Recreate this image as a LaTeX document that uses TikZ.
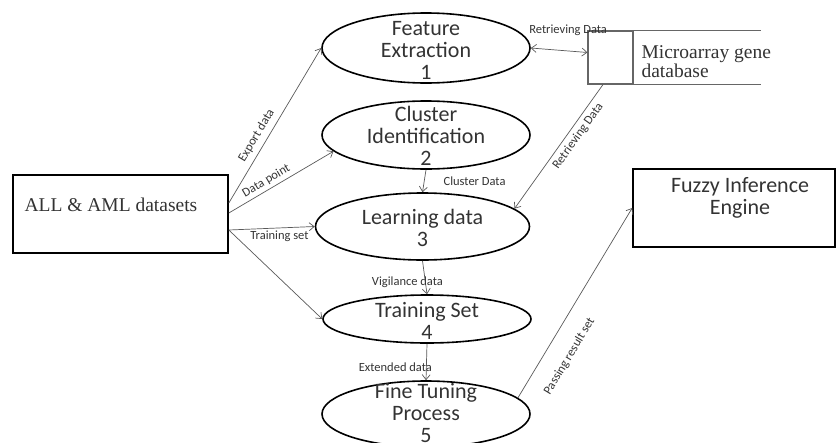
\documentclass[tikz,border=0pt]{standalone}
\usepackage{fontspec}
\setmainfont{Liberation Serif}
\newfontfamily\calfont{Carlito}
\usetikzlibrary{shapes.geometric,arrows.meta}
\begin{document}
\begin{tikzpicture}[x=1pt,y=-1pt]
\tikzstyle{proc}=[ellipse,draw,line width=1.6pt,minimum width=208pt,inner sep=0pt]
\tikzstyle{ptext}=[align=center,font=\calfont\fontsize{22}{22}\selectfont,text=black!80]
\tikzstyle{box}=[draw,line width=1.6pt,inner sep=0pt]
\tikzstyle{flow}=[draw=black!65,line width=0.7pt,-{Straight Barb[length=5pt,width=8pt]}]
\tikzstyle{lbl}=[font=\calfont\fontsize{12.5}{13}\selectfont,text=black!80,inner sep=1pt]
\useasboundingbox (0,0) rectangle (837,442);

% processes
\node[proc,minimum height=70pt] (fe) at (426,48) {};
\node[ptext] (fe-t) at ([yshift=-2pt]fe) {Feature\\Extraction\\1};
\node[proc,minimum height=68pt] (ci) at (426,135) {};
\node[ptext] (ci-t) at ([yshift=-1pt]ci) {Cluster\\Identification\\2};
\node[proc,minimum height=67pt,minimum width=214pt] (ld) at (422.5,226.5) {};
\node[ptext] (ld-t) at ([yshift=-1pt]ld) {Learning data\\3};
\node[proc,minimum height=48pt] (ts) at (427,319) {};
\node[ptext] (ts-t) at ([yshift=-2pt]ts) {Training Set\\4};
\node[proc,minimum height=66pt] (ft) at (426,414) {};
\node[ptext] (ft-t) at ([yshift=1pt]ft) {Fine Tuning\\Process\\5};

% sources and store
\node[box,minimum width=215pt,minimum height=78pt] (all) at (120.5,214) {};
\node[anchor=west,font=\fontsize{19.5}{22}\selectfont,text=black!80] (all-t) at (21,205) {ALL \& AML datasets};
\node[box,minimum width=202pt,minimum height=78pt] (fie) at (734,208) {};
\node[ptext] (fie-t) at (740,198) {Fuzzy Inference\\Engine};
\node[draw=black!60,line width=1.1pt,minimum width=45pt,minimum height=53pt,inner sep=0pt] (db) at (610.5,57.5) {};
\draw[black!60,line width=1.1pt] (db.north east) -- ++(127,0) (db.south east) -- ++(127,0);
\node[anchor=west,align=left,font=\fontsize{19.5}{19}\selectfont,text=black!80] (db-t) at (638,62) {Microarray gene\\database};

% flows
\draw[flow] ([yshift=11pt]all.east) -- (fe.west) node[lbl,pos=.4,sloped,above=4pt] {Export data};
\draw[flow] ([yshift=1pt]all.east) -- (ci.190) node[lbl,pos=.4,sloped,above=2pt] {Data point};
\draw[flow] ([yshift=-16pt]all.east) -- (ld.west) node[lbl,pos=.59,below=2pt] {Training set};
\draw[flow] ([yshift=-16pt]all.east) -- (ts.west);
\draw[flow] (ci.south) -- (ld.north) node[lbl,midway,anchor=west,xshift=18pt] {Cluster Data};
\draw[flow] (ld.south) -- (ts.north) node[lbl,pos=.65,xshift=-18pt] {Vigilance data};
\draw[flow] (ts.south) -- (ft.north) node[lbl,pos=.65,xshift=-31pt] {Extended data};
\draw[flow,{Straight Barb[length=5pt,width=8pt]}-{Straight Barb[length=5pt,width=8pt]}] (fe.east) -- ([yshift=5pt]db.west)
  node[lbl,midway,xshift=9pt,yshift=20pt] {Retrieving Data};
\draw[flow] ([xshift=-7.5pt]db.south) -- (ld.11) node[lbl,pos=.37,sloped,below=3pt] {Retrieving Data};
\draw[flow] (ft.10) -- (fie.west) node[lbl,pos=.28,sloped,below=16pt] {Passing result set};
\end{tikzpicture}
\end{document}
